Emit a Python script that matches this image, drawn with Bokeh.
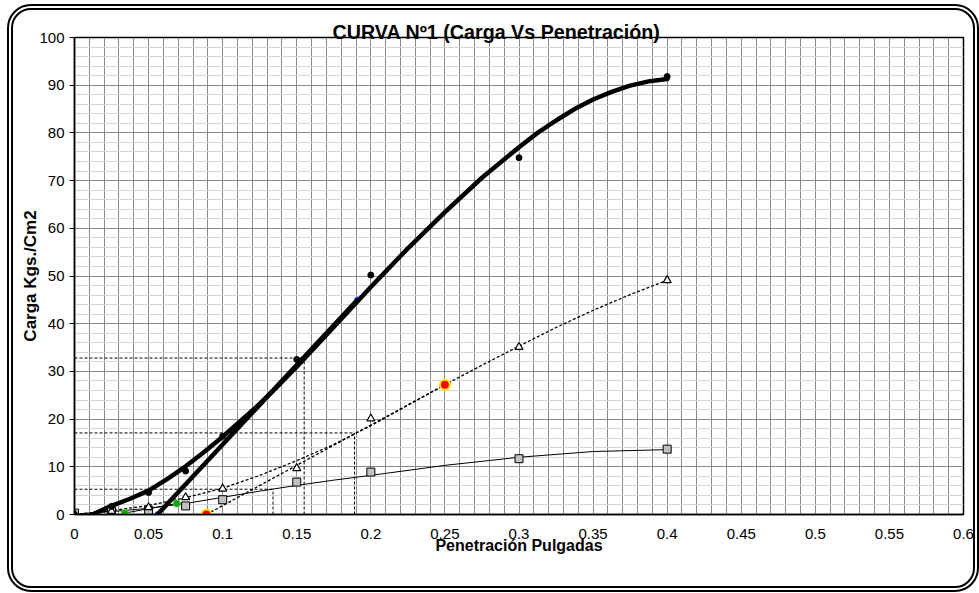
from bokeh.plotting import figure
from bokeh.models import (FixedTicker, SingleIntervalTicker, Range1d, ColumnDataSource,
                          InlineStyleSheet)
from bokeh.embed import file_html
from bokeh.resources import INLINE

# ---------------- data ----------------
pen = [0, 0.025, 0.05, 0.075, 0.1, 0.15, 0.2, 0.3, 0.4]
load_1 = [0, 1.7, 4.6, 9.1, 16.4, 32.5, 50.2, 74.8, 91.8]      # black dots
load_2 = [0, 0.7, 1.5, 3.6, 5.4, 9.7, 20.1, 35.1, 49.1]        # triangles
load_3 = [0.3, 0.6, 0.9, 1.8, 3.1, 6.8, 8.9, 11.7, 13.7]       # squares

trend_1_x = [0.012, 0.025, 0.0375, 0.05, 0.0625, 0.075, 0.0875, 0.1, 0.1125, 0.125,
             0.1375, 0.15, 0.175, 0.2, 0.225, 0.25, 0.275, 0.3, 0.3125, 0.325,
             0.3375, 0.35, 0.3625, 0.375, 0.3875, 0.4]
trend_1_y = [0, 1.8, 3.3, 5.0, 7.4, 10.1, 13.1, 16.3, 19.7, 23.2,
             27.0, 31.0, 39.3, 47.7, 55.8, 63.4, 70.6, 77.0, 80.0, 82.6,
             85.0, 87.0, 88.6, 89.9, 90.8, 91.3]

trend_2_x = [0, 0.025, 0.05, 0.075, 0.1, 0.125, 0.15, 0.175, 0.2, 0.225,
             0.25, 0.275, 0.3, 0.325, 0.35, 0.375, 0.4]
trend_2_y = [0, 0.8, 1.9, 3.5, 5.5, 8.2, 11.3, 14.7, 18.6, 22.9,
             27.2, 31.3, 35.3, 39.2, 42.8, 46.1, 49.1]

trend_3_x = [0, 0.025, 0.05, 0.075, 0.1, 0.125, 0.15, 0.175, 0.2, 0.25, 0.3, 0.35, 0.4]
trend_3_y = [0.1, 0.6, 1.3, 2.3, 3.6, 4.9, 6.1, 7.2, 8.2, 10.3, 12.0, 13.2, 13.6]

# correction tangents (start on axis, end on curve)
tan_1_x = [0.056, 0.191]
tan_1_y = [0, 45.0]
tan_2_x = [0.089, 0.25]
tan_2_y = [0, 27.2]
tan_3_x = [0.034, 0.069]
tan_3_y = [0.3, 2.3]

# corrected readings (dashed guide lines)
corr_pen = [0.155, 0.189, 0.134]
corr_load = [32.8, 17.1, 5.3]

x_ticks = [0, 0.05, 0.1, 0.15, 0.2, 0.25, 0.3, 0.35, 0.4, 0.45, 0.5, 0.55, 0.6]
x_tick_labels = ["0", "0.05", "0.1", "0.15", "0.2", "0.25", "0.3", "0.35",
                 "0.4", "0.45", "0.5", "0.55", "0.6"]

title_text = "CURVA Nº1 (Carga Vs Penetración)"
x_title = "Penetración Pulgadas"
y_title = "Carga Kgs./Cm2"

FONT = "Liberation Sans"

# ---------------- figure ----------------
p = figure(width=979, height=593, x_range=Range1d(0, 0.6), y_range=Range1d(0, 100),
           output_backend="svg", toolbar_location=None,
           min_border_left=74, min_border_right=16, min_border_top=37, min_border_bottom=79)
p.background_fill_color = "white"
p.border_fill_color = "white"
p.outline_line_color = "black"
p.outline_line_width = 1.5

# rounded double frame around the whole chart (drawn by CSS, above the canvas)
frame_css = InlineStyleSheet(css="""
:host { position: relative; }
:host::after {
  content: "";
  position: absolute;
  left: 7px; top: 4px; right: 0px; bottom: 1px;
  border: 6px double black;
  border-radius: 24px;
  pointer-events: none;
  z-index: 10;
}
""")
p.stylesheets = [frame_css]

# title
p.title.text = title_text
p.title.align = "left"
p.title.offset = 258
p.title.standoff = -10
p.title.text_font = FONT
p.title.text_font_size = "19.7px"
p.title.text_font_style = "bold"
p.title.text_color = "black"

# grids
p.xgrid.ticker = SingleIntervalTicker(interval=0.01, num_minor_ticks=0)
p.xgrid.grid_line_color = "#8a8a8a"
p.xgrid.grid_line_width = 1
p.ygrid.ticker = SingleIntervalTicker(interval=10, num_minor_ticks=5)
p.ygrid.grid_line_color = "#8a8a8a"
p.ygrid.grid_line_width = 1
p.ygrid.minor_grid_line_color = "#d4d4d4"
p.ygrid.minor_grid_line_width = 1

# axes
p.xaxis.ticker = FixedTicker(ticks=x_ticks)
p.xaxis.major_label_overrides = dict(zip(x_ticks, x_tick_labels))
p.yaxis.ticker = SingleIntervalTicker(interval=10, num_minor_ticks=0)
for ax in (p.xaxis[0], p.yaxis[0]):
    ax.axis_line_color = "black"
    ax.axis_line_width = 1.5
    ax.major_label_text_font = FONT
    ax.major_label_text_font_size = "15px"
    ax.major_label_text_color = "black"
    ax.minor_tick_line_color = None
    ax.axis_label_text_font = FONT
    ax.axis_label_text_font_style = "bold"
    ax.axis_label_text_color = "black"
p.xaxis.major_tick_out = 0
p.xaxis.major_tick_in = 0
p.xaxis.major_label_standoff = 14
p.xaxis.axis_label = x_title
p.xaxis.axis_label_text_font_size = "16px"
p.xaxis.axis_label_standoff = -5
p.yaxis.major_tick_out = 5
p.yaxis.major_tick_in = 0
p.yaxis.major_tick_line_color = "black"
p.yaxis.major_label_standoff = 5
p.yaxis.axis_label = y_title
p.yaxis.axis_label_text_font_size = "17px"
p.yaxis.axis_label_standoff = -4

dash = "3 2"

# trend curves
p.line(trend_3_x, trend_3_y, line_color="black", line_width=1)
p.line(trend_2_x, trend_2_y, line_color="black", line_width=1.3, line_dash=dash)

# guide lines for corrected readings
guides = ColumnDataSource(dict(x0=[0] * len(corr_pen), x1=corr_pen,
                               y0=[0] * len(corr_load), y1=corr_load))
p.segment(x0="x0", y0="y1", x1="x1", y1="y1", source=guides,
          line_color="black", line_width=1, line_dash=dash)
p.segment(x0="x1", y0="y0", x1="x1", y1="y1", source=guides,
          line_color="black", line_width=1, line_dash=dash)

# tangents
p.line(tan_3_x, tan_3_y, line_color="black", line_width=1)
p.line(tan_2_x, tan_2_y, line_color="black", line_width=1.3, line_dash=dash)
p.scatter(tan_1_x, tan_1_y, marker="circle", size=6, fill_color="#0000ff", line_color="#5aa0ff", line_width=1)
p.line(trend_1_x, trend_1_y, line_color="black", line_width=4.5, line_join="round", line_cap="round")
p.line(tan_1_x, tan_1_y, line_color="black", line_width=4.5, line_cap="butt")

# markers
p.scatter(pen, load_3, marker="square", size=8, fill_color="#c0c0c0", line_color="black", line_width=1)
p.scatter(pen, load_2, marker="triangle", size=8, fill_color="white", line_color="black", line_width=1.2)
p.scatter(pen, load_1, marker="circle", size=6, fill_color="black", line_color="black")
p.scatter(tan_3_x, tan_3_y, marker="circle", size=7, fill_color="#10a010", line_color="#40d040", line_width=1)
p.scatter(tan_2_x, tan_2_y, marker="circle", size=10, fill_color="#ff0000", line_color="#ffee00", line_width=2)

open("out.html", "w").write(file_html(p, INLINE))
